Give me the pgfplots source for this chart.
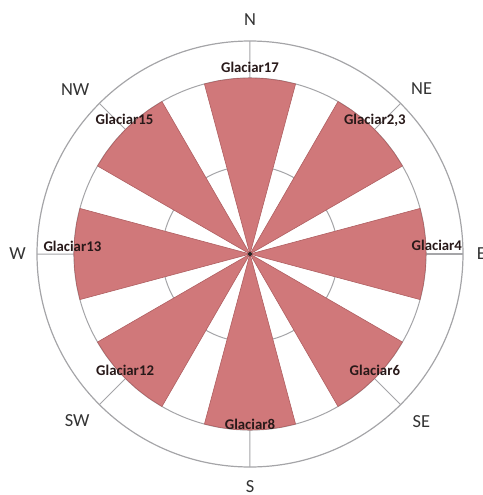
\documentclass[border=0pt]{standalone}
\usepackage{fontspec}
\setmainfont{Carlito}
\usepackage{pgfplots}
\pgfplotsset{compat=1.18}
\usepgfplotslibrary{polar}
\usetikzlibrary{calc}

\definecolor{sectorred}{RGB}{208,120,122}
\definecolor{sectoredge}{RGB}{175,95,97}
\definecolor{gridgray}{RGB}{165,165,168}
\definecolor{labeldark}{RGB}{40,25,25}

\tikzset{
    glac/.style={font=\fontsize{7.4}{8}\selectfont\bfseries, text=labeldark, inner sep=0pt},
    dir/.style={font=\fontsize{9.2}{10}\selectfont, text=black!80, inner sep=0pt},
}

\begin{document}
\begin{tikzpicture}
\begin{polaraxis}[
    width=213pt, height=213pt, scale only axis,
    xmin=0, xmax=360, ymin=0, ymax=2.42,
    clip=false,
    xtick={0,45,...,315}, xticklabels={},
    ytick={1,2}, yticklabels={},
    major tick length=0pt,
    xmajorgrids, ymajorgrids,
    grid style={gridgray, line width=0.5pt},
    axis line style={gridgray, line width=0.6pt},
    sector/.style={fill=sectorred, draw=sectoredge, line width=0.3pt},
]
% N
\addplot[sector] coordinates {(0,0) (75,2) (80,2) (85,2) (90,2) (95,2) (100,2) (105,2) (0,0)};
% NE
\addplot[sector] coordinates {(0,0) (30,2) (35,2) (40,2) (45,2) (50,2) (55,2) (60,2) (0,0)};
% E
\addplot[sector] coordinates {(0,0) (-15,2) (-10,2) (-5,2) (0,2) (5,2) (10,2) (15,2) (0,0)};
% SE
\addplot[sector] coordinates {(0,0) (300,2) (305,2) (310,2) (315,2) (320,2) (325,2) (330,2) (0,0)};
% S
\addplot[sector] coordinates {(0,0) (255,2) (260,2) (265,2) (270,2) (275,2) (280,2) (285,2) (0,0)};
% SW
\addplot[sector] coordinates {(0,0) (210,2) (215,2) (220,2) (225,2) (230,2) (235,2) (240,2) (0,0)};
% W
\addplot[sector] coordinates {(0,0) (165,2) (170,2) (175,2) (180,2) (185,2) (190,2) (195,2) (0,0)};
% NW
\addplot[sector] coordinates {(0,0) (120,2) (125,2) (130,2) (135,2) (140,2) (145,2) (150,2) (0,0)};
% centre
\addplot[only marks, mark=*, mark size=0.9pt, fill=black!85, draw=black!85] coordinates {(0,0)};

\node[glac] at (axis cs:90,2.125) {Glaciar17};
\node[glac] at (axis cs:47,2.08) {Glaciar2,3};
\node[glac] at (axis cs:2.5,2.125) {Glaciar4};
\node[glac] at (axis cs:317,1.94) {Glaciar6};
\node[glac] at (axis cs:270,1.93) {Glaciar8};
\node[glac] at (axis cs:223,1.94) {Glaciar12};
\node[glac] at (axis cs:177.4,2.02) {Glaciar13};
\node[glac] at (axis cs:133,2.09) {Glaciar15};

\node[dir] at (axis cs:90,2.66) {N};
\node[dir] at (axis cs:44,2.71) {NE};
\node[dir] at (axis cs:0,2.63) {E};
\node[dir] at (axis cs:315.7,2.72) {SE};
\node[dir] at (axis cs:270,2.64) {S};
\node[dir] at (axis cs:224,2.73) {SW};
\node[dir] at (axis cs:136.7,2.73) {NW};
\node[dir] at (axis cs:180,2.64) {W};

\coordinate (c) at (axis cs:0,0);
\end{polaraxis}
\pgfresetboundingbox
\path[use as bounding box] ($(c)+(-125pt,-120.5pt)$) rectangle ($(c)+(116.5pt,127pt)$);
\end{tikzpicture}
\end{document}
